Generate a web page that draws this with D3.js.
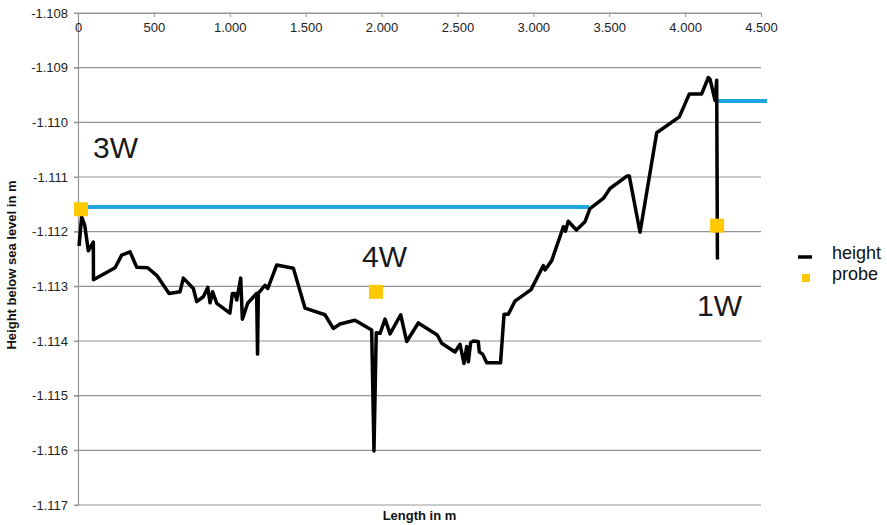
<!DOCTYPE html>
<html>
<head>
<meta charset="utf-8">
<script src="https://cdn.jsdelivr.net/npm/d3@7"></script>
<style>
  body { margin: 0; background: #fff; }
  svg { font-family: "Liberation Sans", Arial, sans-serif; }
</style>
</head>
<body>
<svg id="chart" width="887" height="525"></svg>
<script>
// measured profile: length along section (m) and height (m)
var heightX = [7, 24, 44, 68, 101, 102, 244, 288, 343, 387, 459, 522, 600, 672, 694, 760, 782, 826, 855, 870, 887, 914,
  1001, 1017, 1034, 1046, 1072, 1083, 1118, 1177, 1183, 1188, 1232, 1250, 1309, 1419, 1496, 1627, 1682, 1726, 1825,
  1935, 1950, 1965, 1990, 2023, 2056, 2126, 2166, 2242, 2367, 2396, 2484, 2517, 2543, 2561, 2572, 2587, 2604, 2637,
  2644, 2666, 2693, 2784, 2807, 2835, 2879, 2985, 3066, 3077, 3121, 3198, 3212, 3230, 3284, 3340, 3373, 3461, 3472,
  3505, 3619, 3632, 3703, 3813, 3962, 4028, 4109, 4153, 4164, 4197, 4208, 4213];
var heightY = [-1112.26, -1111.73, -1111.88, -1112.35, -1112.19, -1112.88, -1112.66, -1112.43, -1112.37, -1112.65,
  -1112.66, -1112.81, -1113.13, -1113.10, -1112.85, -1113.04, -1113.28, -1113.19, -1113.02, -1113.30, -1113.10,
  -1113.31, -1113.49, -1113.13, -1113.13, -1113.25, -1112.85, -1113.60, -1113.31, -1113.13, -1114.24, -1113.13,
  -1112.98, -1113.04, -1112.61, -1112.67, -1113.40, -1113.52, -1113.77, -1113.69, -1113.62, -1113.80, -1116.01,
  -1113.85, -1113.86, -1113.60, -1113.87, -1113.52, -1114.01, -1113.67, -1113.89, -1114.04, -1114.20, -1114.06,
  -1114.41, -1114.10, -1114.38, -1114.03, -1114.00, -1114.01, -1114.20, -1114.24, -1114.40, -1114.40, -1113.51,
  -1113.51, -1113.27, -1113.06, -1112.62, -1112.70, -1112.53, -1111.91, -1111.99, -1111.81, -1111.97, -1111.82,
  -1111.58, -1111.39, -1111.35, -1111.21, -1110.98, -1110.98, -1112.01, -1110.19, -1109.90, -1109.48, -1109.48,
  -1109.18, -1109.21, -1109.60, -1109.23, -1112.51];

// probes
var probeNames = ["3W", "4W", "1W"];
var probeX = [20, 1963, 4211];
var probeY = [-1111.59, -1113.10, -1111.89];

// blue level lines (start, end, level)
var levelX0 = [0, 4208];
var levelX1 = [3367, 4540];
var levelY = [-1111.55, -1109.61];

var xTicks = [0, 500, 1000, 1500, 2000, 2500, 3000, 3500, 4000, 4500];
var yTicks = [-1108, -1109, -1110, -1111, -1112, -1113, -1114, -1115, -1116, -1117];

var legendLabels = ["height", "probe"];

var svg = d3.select("#chart");
//plot area edges (don't call these top/left, window.top is read-only)
var plotL = 78, plotR = 761, plotT = 13, plotB = 505;

var x = d3.scaleLinear().domain([0, 4500]).range([plotL, plotR]);
var y = d3.scaleLinear().domain([-1117, -1108]).range([plotB, plotT]);

// German style numbers: 1.000 etc
var de = d3.formatLocale({ decimal: ",", thousands: ".", grouping: [3], currency: ["", " €"], minus: "-" });
var fmt = de.format(",d");

//Gridlines
svg.append("g")
  .selectAll("line")
  .data(yTicks)
  .join("line")
  .attr("x1", plotL - 4)
  .attr("x2", plotR)
  .attr("y1", function(d) { return y(d); })
  .attr("y2", function(d) { return y(d); })
  .attr("stroke", "#959595")
  .attr("stroke-width", 1.2);

//Y axis
var yAxis = svg.append("g")
  .attr("transform", "translate(" + plotL + ",0)")
  .call(d3.axisLeft(y).tickValues(yTicks).tickFormat(fmt).tickSizeInner(4).tickSizeOuter(0).tickPadding(6));
yAxis.select(".domain").attr("stroke", "#959595").attr("stroke-width", 1.2);
yAxis.selectAll(".tick line").attr("stroke", "#959595");
yAxis.selectAll("text").attr("font-size", 13).attr("fill", "#222");

//X axis sits at the top, ticks hanging down
var xAxis = svg.append("g")
  .attr("transform", "translate(0," + plotT + ")")
  .call(d3.axisBottom(x).tickValues(xTicks).tickFormat(fmt).tickSizeInner(4).tickSizeOuter(0).tickPadding(6));
xAxis.select(".domain").attr("stroke", "#959595").attr("stroke-width", 1.2);
xAxis.selectAll(".tick line").attr("stroke", "#959595");
xAxis.selectAll("text").attr("font-size", 13).attr("fill", "#222");

//Axis titles
svg.append("text")
  .attr("transform", "translate(16,265) rotate(-90)")
  .attr("text-anchor", "middle")
  .attr("font-size", 13)
  .attr("font-weight", "bold")
  .attr("fill", "#111")
  .text("Height below sea level in m");

svg.append("text")
  .attr("x", (plotL + plotR) / 2)
  .attr("y", 520)
  .attr("text-anchor", "middle")
  .attr("font-size", 13)
  .attr("font-weight", "bold")
  .attr("fill", "#111")
  .text("Length in m");

//Blue level lines
svg.append("g")
  .selectAll("line")
  .data(levelY)
  .join("line")
  .attr("x1", function(d, i) { return x(levelX0[i]); })
  .attr("x2", function(d, i) { return x(levelX1[i]); })
  .attr("y1", function(d) { return y(d); })
  .attr("y2", function(d) { return y(d); })
  .attr("stroke", "#1fa5df")
  .attr("stroke-width", 4);

//Height profile
var line = d3.line()
  .x(function(d, i) { return x(heightX[i]); })
  .y(function(d) { return y(d); });

svg.append("path")
  .datum(heightY)
  .attr("d", line)
  .attr("fill", "none")
  .attr("stroke", "#000")
  .attr("stroke-width", 3.5)
  .attr("stroke-linejoin", "round");

//Probes
svg.append("g")
  .selectAll("rect")
  .data(probeY)
  .join("rect")
  .attr("x", function(d, i) { return x(probeX[i]) - 7; })
  .attr("y", function(d) { return y(d) - 7; })
  .attr("width", 14)
  .attr("height", 14)
  .attr("fill", "#ffc800");

//Probe names (placed by hand like the original)
var nameX = [93, 362, 697];
var nameY = [158, 267, 316];
svg.append("g")
  .selectAll("text")
  .data(probeNames)
  .join("text")
  .attr("x", function(d, i) { return nameX[i]; })
  .attr("y", function(d, i) { return nameY[i]; })
  .attr("font-size", 30)
  .attr("fill", "#1a1a1a")
  .text(function(d) { return d; });

//Legend
var legend = svg.append("g").attr("transform", "translate(798,0)");
legend.append("line")
  .attr("x1", 0).attr("x2", 14)
  .attr("y1", 257).attr("y2", 257)
  .attr("stroke", "#000")
  .attr("stroke-width", 3.5);
legend.append("rect")
  .attr("x", 4).attr("y", 274)
  .attr("width", 8).attr("height", 8)
  .attr("fill", "#ffc800");
legend.selectAll("text")
  .data(legendLabels)
  .join("text")
  .attr("x", 34)
  .attr("y", function(d, i) { return 259 + i * 21; })
  .attr("font-size", 18)
  .attr("fill", "#111")
  .text(function(d) { return d; });
</script>
</body>
</html>
